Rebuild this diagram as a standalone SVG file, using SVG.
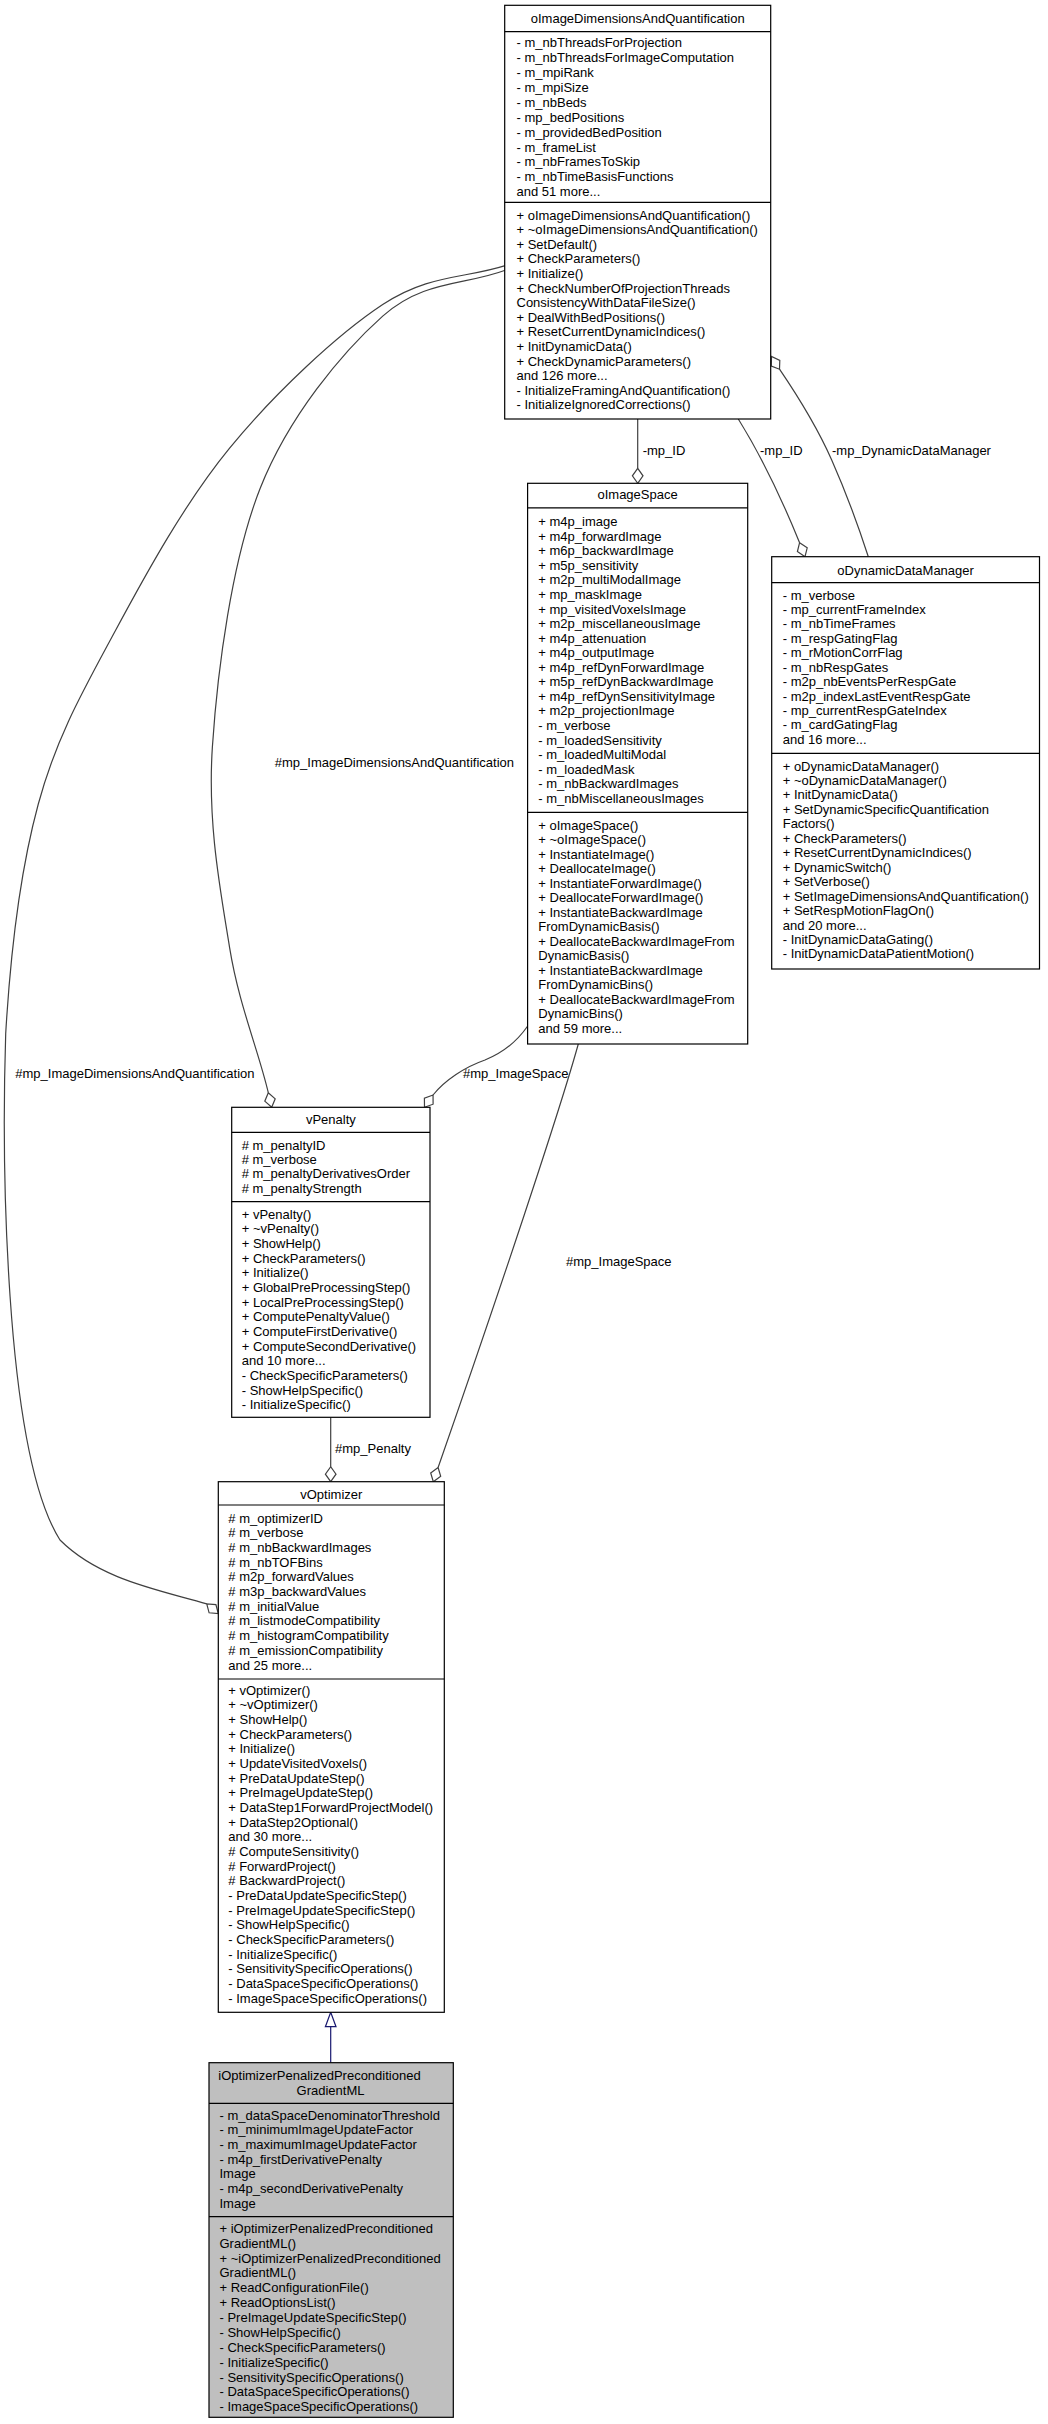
<svg xmlns="http://www.w3.org/2000/svg" width="1048" height="2424" viewBox="0 0 1048 2424">
<style>
text{font-family:"Liberation Sans",Arial,Helvetica,sans-serif;font-size:13px;fill:#000}
.t{text-anchor:middle}
.box{fill:#fff;stroke:#000;stroke-width:1.2}
.main{fill:#bfbfbf}
.sep{stroke:#000;stroke-width:1.2}
.edge{fill:none;stroke:#404040;stroke-width:1.2}
.dia{fill:#fff;stroke:#404040;stroke-width:1.2}
.inh{fill:none;stroke:#191970;stroke-width:1.2}
</style>
<rect width="1048" height="2424" fill="#fff"/>
<g id="edges">
  <!-- ID -> IS -->
  <path class="edge" d="M637.7,419 L637.7,468.3"/>
  <polygon class="dia" points="637.7,483.3 643,475.8 637.7,468.3 632.4,475.8"/>
  <text x="642.7" y="455">-mp_ID</text>
  <!-- ID -> DDM -->
  <path class="edge" d="M738.3,419 Q770,470 799.6,542.7"/>
  <polygon class="dia" points="805,556.7 807.2,547.8 799.6,542.7 797.4,551.6"/>
  <text x="760" y="455">-mp_ID</text>
  <!-- DDM -> ID -->
  <path class="edge" d="M868.3,556.7 C858,525 845,490 831.7,460 S795,392 779.5,369.2"/>
  <polygon class="dia" points="771.5,356.5 771.3,366.0 779.5,369.2 779.8,360.4"/>
  <text x="832" y="455">-mp_DynamicDataManager</text>
  <!-- ID -> VP (inner) -->
  <path class="edge" d="M505.2,270.2 C464.4,285.5 423.5,279.8 382.7,316.1 C341.9,352.5 288.6,416.6 260.2,488.3 C231.8,560.1 217.5,670.1 212.4,746.6 C207.3,823.2 220.4,890.2 229.6,947.6 C238.9,1005 258,1048.9 268.3,1092.7"/>
  <polygon class="dia" points="271.7,1107.3 275.2,1098.8 268.3,1092.7 264.8,1101.2"/>
  <text x="274.8" y="766.7">#mp_ImageDimensionsAndQuantification</text>
  <!-- ID -> VO (outer) -->
  <path class="edge" d="M505.2,265.6 C464.4,278.6 428.6,274.2 382.7,304.6 C336.8,335 274.3,393.6 229.6,448.1 C185,502.6 146.7,572.5 114.8,631.8 C82.9,691.1 56.5,737 38.3,804 C20.1,871 10,960 5.7,1033.7 C2,1150 3,1450 60,1540 C100,1580 160,1590 206.75,1603.9"/>
  <polygon class="dia" points="218.3,1613.5 215.9,1604.6 206.75,1603.9 209.1,1612.8"/>
  <text x="15.3" y="1078.4">#mp_ImageDimensionsAndQuantification</text>
  <!-- IS -> VP -->
  <path class="edge" d="M527.7,1026 C518,1040 505,1052 485,1060 C465,1067 445,1080 433.05,1095"/>
  <polygon class="dia" points="424.5,1107.3 433.1,1104.2 433.05,1095 424.4,1098.1"/>
  <text x="463" y="1078.4">#mp_ImageSpace</text>
  <!-- IS -> VO -->
  <path class="edge" d="M578.3,1044 C560,1110 500,1290 438.1,1467.5"/>
  <polygon class="dia" points="433.3,1481.7 440.7,1476.3 438.1,1467.5 430.7,1472.9"/>
  <text x="566" y="1265.5">#mp_ImageSpace</text>
  <!-- VP -> VO -->
  <path class="edge" d="M330.7,1417.3 L330.7,1466.7"/>
  <polygon class="dia" points="330.7,1481.7 336,1474.2 330.7,1466.7 325.4,1474.2"/>
  <text x="335" y="1452.8">#mp_Penalty</text>
  <!-- IO -> VO inheritance -->
  <path class="inh" d="M330.7,2062.7 L330.7,2026.7"/>
  <polygon class="inh" points="330.7,2012.3 336,2026.7 325.4,2026.7"/>
</g>
<g id="oImageDimensionsAndQuantification">
  <rect class="box" x="504.7" y="5.3" width="266" height="413.7"/>
  <line class="sep" x1="504.7" y1="31.7" x2="770.7" y2="31.7"/>
  <line class="sep" x1="504.7" y1="202.3" x2="770.7" y2="202.3"/>
  <text class="t" x="637.7" y="22.5">oImageDimensionsAndQuantification</text>
  <text x="516.5" y="47.2"><tspan x="516.5">- m_nbThreadsForProjection</tspan><tspan x="516.5" dy="14.9">- m_nbThreadsForImageComputation</tspan><tspan x="516.5" dy="14.9">- m_mpiRank</tspan><tspan x="516.5" dy="14.9">- m_mpiSize</tspan><tspan x="516.5" dy="14.9">- m_nbBeds</tspan><tspan x="516.5" dy="14.9">- mp_bedPositions</tspan><tspan x="516.5" dy="14.9">- m_providedBedPosition</tspan><tspan x="516.5" dy="14.9">- m_frameList</tspan><tspan x="516.5" dy="14.9">- m_nbFramesToSkip</tspan><tspan x="516.5" dy="14.9">- m_nbTimeBasisFunctions</tspan><tspan x="516.5" dy="14.9">and 51 more...</tspan></text>
  <text x="516.5" y="219.5"><tspan x="516.5">+ oImageDimensionsAndQuantification()</tspan><tspan x="516.5" dy="14.615">+ ~oImageDimensionsAndQuantification()</tspan><tspan x="516.5" dy="14.615">+ SetDefault()</tspan><tspan x="516.5" dy="14.615">+ CheckParameters()</tspan><tspan x="516.5" dy="14.615">+ Initialize()</tspan><tspan x="516.5" dy="14.615">+ CheckNumberOfProjectionThreads</tspan><tspan x="516.5" dy="14.615">ConsistencyWithDataFileSize()</tspan><tspan x="516.5" dy="14.615">+ DealWithBedPositions()</tspan><tspan x="516.5" dy="14.615">+ ResetCurrentDynamicIndices()</tspan><tspan x="516.5" dy="14.615">+ InitDynamicData()</tspan><tspan x="516.5" dy="14.615">+ CheckDynamicParameters()</tspan><tspan x="516.5" dy="14.615">and 126 more...</tspan><tspan x="516.5" dy="14.615">- InitializeFramingAndQuantification()</tspan><tspan x="516.5" dy="14.615">- InitializeIgnoredCorrections()</tspan></text>
</g>
<g id="oImageSpace">
  <rect class="box" x="527.6" y="483.3" width="220.1" height="560.7"/>
  <line class="sep" x1="527.6" y1="507.8" x2="747.7" y2="507.8"/>
  <line class="sep" x1="527.6" y1="812.3" x2="747.7" y2="812.3"/>
  <text class="t" x="637.6" y="498.5">oImageSpace</text>
  <text x="538.3" y="526.2"><tspan x="538.3">+ m4p_image</tspan><tspan x="538.3" dy="14.56">+ m4p_forwardImage</tspan><tspan x="538.3" dy="14.56">+ m6p_backwardImage</tspan><tspan x="538.3" dy="14.56">+ m5p_sensitivity</tspan><tspan x="538.3" dy="14.56">+ m2p_multiModalImage</tspan><tspan x="538.3" dy="14.56">+ mp_maskImage</tspan><tspan x="538.3" dy="14.56">+ mp_visitedVoxelsImage</tspan><tspan x="538.3" dy="14.56">+ m2p_miscellaneousImage</tspan><tspan x="538.3" dy="14.56">+ m4p_attenuation</tspan><tspan x="538.3" dy="14.56">+ m4p_outputImage</tspan><tspan x="538.3" dy="14.56">+ m4p_refDynForwardImage</tspan><tspan x="538.3" dy="14.56">+ m5p_refDynBackwardImage</tspan><tspan x="538.3" dy="14.56">+ m4p_refDynSensitivityImage</tspan><tspan x="538.3" dy="14.56">+ m2p_projectionImage</tspan><tspan x="538.3" dy="14.56">- m_verbose</tspan><tspan x="538.3" dy="14.56">- m_loadedSensitivity</tspan><tspan x="538.3" dy="14.56">- m_loadedMultiModal</tspan><tspan x="538.3" dy="14.56">- m_loadedMask</tspan><tspan x="538.3" dy="14.56">- m_nbBackwardImages</tspan><tspan x="538.3" dy="14.56">- m_nbMiscellaneousImages</tspan></text>
  <text x="538.3" y="829.5"><tspan x="538.3">+ oImageSpace()</tspan><tspan x="538.3" dy="14.52">+ ~oImageSpace()</tspan><tspan x="538.3" dy="14.52">+ InstantiateImage()</tspan><tspan x="538.3" dy="14.52">+ DeallocateImage()</tspan><tspan x="538.3" dy="14.52">+ InstantiateForwardImage()</tspan><tspan x="538.3" dy="14.52">+ DeallocateForwardImage()</tspan><tspan x="538.3" dy="14.52">+ InstantiateBackwardImage</tspan><tspan x="538.3" dy="14.52">FromDynamicBasis()</tspan><tspan x="538.3" dy="14.52">+ DeallocateBackwardImageFrom</tspan><tspan x="538.3" dy="14.52">DynamicBasis()</tspan><tspan x="538.3" dy="14.52">+ InstantiateBackwardImage</tspan><tspan x="538.3" dy="14.52">FromDynamicBins()</tspan><tspan x="538.3" dy="14.52">+ DeallocateBackwardImageFrom</tspan><tspan x="538.3" dy="14.52">DynamicBins()</tspan><tspan x="538.3" dy="14.52">and 59 more...</tspan></text>
</g>
<g id="oDynamicDataManager">
  <rect class="box" x="771.7" y="556.7" width="267.8" height="412.3"/>
  <line class="sep" x1="771.7" y1="582.7" x2="1039.5" y2="582.7"/>
  <line class="sep" x1="771.7" y1="753.3" x2="1039.5" y2="753.3"/>
  <text class="t" x="905.6" y="574.5">oDynamicDataManager</text>
  <text x="782.7" y="599.5"><tspan x="782.7">- m_verbose</tspan><tspan x="782.7" dy="14.43">- mp_currentFrameIndex</tspan><tspan x="782.7" dy="14.43">- m_nbTimeFrames</tspan><tspan x="782.7" dy="14.43">- m_respGatingFlag</tspan><tspan x="782.7" dy="14.43">- m_rMotionCorrFlag</tspan><tspan x="782.7" dy="14.43">- m_nbRespGates</tspan><tspan x="782.7" dy="14.43">- m2p_nbEventsPerRespGate</tspan><tspan x="782.7" dy="14.43">- m2p_indexLastEventRespGate</tspan><tspan x="782.7" dy="14.43">- mp_currentRespGateIndex</tspan><tspan x="782.7" dy="14.43">- m_cardGatingFlag</tspan><tspan x="782.7" dy="14.43">and 16 more...</tspan></text>
  <text x="782.7" y="770.5"><tspan x="782.7">+ oDynamicDataManager()</tspan><tspan x="782.7" dy="14.46">+ ~oDynamicDataManager()</tspan><tspan x="782.7" dy="14.46">+ InitDynamicData()</tspan><tspan x="782.7" dy="14.46">+ SetDynamicSpecificQuantification</tspan><tspan x="782.7" dy="14.46">Factors()</tspan><tspan x="782.7" dy="14.46">+ CheckParameters()</tspan><tspan x="782.7" dy="14.46">+ ResetCurrentDynamicIndices()</tspan><tspan x="782.7" dy="14.46">+ DynamicSwitch()</tspan><tspan x="782.7" dy="14.46">+ SetVerbose()</tspan><tspan x="782.7" dy="14.46">+ SetImageDimensionsAndQuantification()</tspan><tspan x="782.7" dy="14.46">+ SetRespMotionFlagOn()</tspan><tspan x="782.7" dy="14.46">and 20 more...</tspan><tspan x="782.7" dy="14.46">- InitDynamicDataGating()</tspan><tspan x="782.7" dy="14.46">- InitDynamicDataPatientMotion()</tspan></text>
</g>
<g id="vPenalty">
  <rect class="box" x="231.7" y="1107.3" width="198.3" height="310"/>
  <line class="sep" x1="231.7" y1="1132.3" x2="430" y2="1132.3"/>
  <line class="sep" x1="231.7" y1="1201.7" x2="430" y2="1201.7"/>
  <text class="t" x="330.85" y="1123.8">vPenalty</text>
  <text x="241.7" y="1149.5"><tspan x="241.7"># m_penaltyID</tspan><tspan x="241.7" dy="14.43"># m_verbose</tspan><tspan x="241.7" dy="14.43"># m_penaltyDerivativesOrder</tspan><tspan x="241.7" dy="14.43"># m_penaltyStrength</tspan></text>
  <text x="241.7" y="1218.5"><tspan x="241.7">+ vPenalty()</tspan><tspan x="241.7" dy="14.69">+ ~vPenalty()</tspan><tspan x="241.7" dy="14.69">+ ShowHelp()</tspan><tspan x="241.7" dy="14.69">+ CheckParameters()</tspan><tspan x="241.7" dy="14.69">+ Initialize()</tspan><tspan x="241.7" dy="14.69">+ GlobalPreProcessingStep()</tspan><tspan x="241.7" dy="14.69">+ LocalPreProcessingStep()</tspan><tspan x="241.7" dy="14.69">+ ComputePenaltyValue()</tspan><tspan x="241.7" dy="14.69">+ ComputeFirstDerivative()</tspan><tspan x="241.7" dy="14.69">+ ComputeSecondDerivative()</tspan><tspan x="241.7" dy="14.69">and 10 more...</tspan><tspan x="241.7" dy="14.69">- CheckSpecificParameters()</tspan><tspan x="241.7" dy="14.69">- ShowHelpSpecific()</tspan><tspan x="241.7" dy="14.69">- InitializeSpecific()</tspan></text>
</g>
<g id="vOptimizer">
  <rect class="box" x="218.3" y="1481.7" width="226" height="530.6"/>
  <line class="sep" x1="218.3" y1="1505" x2="444.3" y2="1505"/>
  <line class="sep" x1="218.3" y1="1679" x2="444.3" y2="1679"/>
  <text class="t" x="331.3" y="1498.5">vOptimizer</text>
  <text x="228.3" y="1522.8"><tspan x="228.3"># m_optimizerID</tspan><tspan x="228.3" dy="14.67"># m_verbose</tspan><tspan x="228.3" dy="14.67"># m_nbBackwardImages</tspan><tspan x="228.3" dy="14.67"># m_nbTOFBins</tspan><tspan x="228.3" dy="14.67"># m2p_forwardValues</tspan><tspan x="228.3" dy="14.67"># m3p_backwardValues</tspan><tspan x="228.3" dy="14.67"># m_initialValue</tspan><tspan x="228.3" dy="14.67"># m_listmodeCompatibility</tspan><tspan x="228.3" dy="14.67"># m_histogramCompatibility</tspan><tspan x="228.3" dy="14.67"># m_emissionCompatibility</tspan><tspan x="228.3" dy="14.67">and 25 more...</tspan></text>
  <text x="228.3" y="1694.5"><tspan x="228.3">+ vOptimizer()</tspan><tspan x="228.3" dy="14.68">+ ~vOptimizer()</tspan><tspan x="228.3" dy="14.68">+ ShowHelp()</tspan><tspan x="228.3" dy="14.68">+ CheckParameters()</tspan><tspan x="228.3" dy="14.68">+ Initialize()</tspan><tspan x="228.3" dy="14.68">+ UpdateVisitedVoxels()</tspan><tspan x="228.3" dy="14.68">+ PreDataUpdateStep()</tspan><tspan x="228.3" dy="14.68">+ PreImageUpdateStep()</tspan><tspan x="228.3" dy="14.68">+ DataStep1ForwardProjectModel()</tspan><tspan x="228.3" dy="14.68">+ DataStep2Optional()</tspan><tspan x="228.3" dy="14.68">and 30 more...</tspan><tspan x="228.3" dy="14.68"># ComputeSensitivity()</tspan><tspan x="228.3" dy="14.68"># ForwardProject()</tspan><tspan x="228.3" dy="14.68"># BackwardProject()</tspan><tspan x="228.3" dy="14.68">- PreDataUpdateSpecificStep()</tspan><tspan x="228.3" dy="14.68">- PreImageUpdateSpecificStep()</tspan><tspan x="228.3" dy="14.68">- ShowHelpSpecific()</tspan><tspan x="228.3" dy="14.68">- CheckSpecificParameters()</tspan><tspan x="228.3" dy="14.68">- InitializeSpecific()</tspan><tspan x="228.3" dy="14.68">- SensitivitySpecificOperations()</tspan><tspan x="228.3" dy="14.68">- DataSpaceSpecificOperations()</tspan><tspan x="228.3" dy="14.68">- ImageSpaceSpecificOperations()</tspan></text>
</g>
<g id="iOptimizerPenalizedPreconditionedGradientML">
  <rect class="box main" x="209" y="2062.7" width="244.3" height="354.6"/>
  <line class="sep" x1="209" y1="2103.3" x2="453.3" y2="2103.3"/>
  <line class="sep" x1="209" y1="2216.7" x2="453.3" y2="2216.7"/>
  <text x="218.3" y="2079.5">iOptimizerPenalizedPreconditioned</text>
  <text class="t" x="330.5" y="2094.5">GradientML</text>
  <text x="219.5" y="2119.5"><tspan x="219.5">- m_dataSpaceDenominatorThreshold</tspan><tspan x="219.5" dy="14.72">- m_minimumImageUpdateFactor</tspan><tspan x="219.5" dy="14.72">- m_maximumImageUpdateFactor</tspan><tspan x="219.5" dy="14.72">- m4p_firstDerivativePenalty</tspan><tspan x="219.5" dy="14.72">Image</tspan><tspan x="219.5" dy="14.72">- m4p_secondDerivativePenalty</tspan><tspan x="219.5" dy="14.72">Image</tspan></text>
  <text x="219.5" y="2232.8"><tspan x="219.5">+ iOptimizerPenalizedPreconditioned</tspan><tspan x="219.5" dy="14.87">GradientML()</tspan><tspan x="219.5" dy="14.87">+ ~iOptimizerPenalizedPreconditioned</tspan><tspan x="219.5" dy="14.87">GradientML()</tspan><tspan x="219.5" dy="14.87">+ ReadConfigurationFile()</tspan><tspan x="219.5" dy="14.87">+ ReadOptionsList()</tspan><tspan x="219.5" dy="14.87">- PreImageUpdateSpecificStep()</tspan><tspan x="219.5" dy="14.87">- ShowHelpSpecific()</tspan><tspan x="219.5" dy="14.87">- CheckSpecificParameters()</tspan><tspan x="219.5" dy="14.87">- InitializeSpecific()</tspan><tspan x="219.5" dy="14.87">- SensitivitySpecificOperations()</tspan><tspan x="219.5" dy="14.87">- DataSpaceSpecificOperations()</tspan><tspan x="219.5" dy="14.87">- ImageSpaceSpecificOperations()</tspan></text>
</g>
</svg>
